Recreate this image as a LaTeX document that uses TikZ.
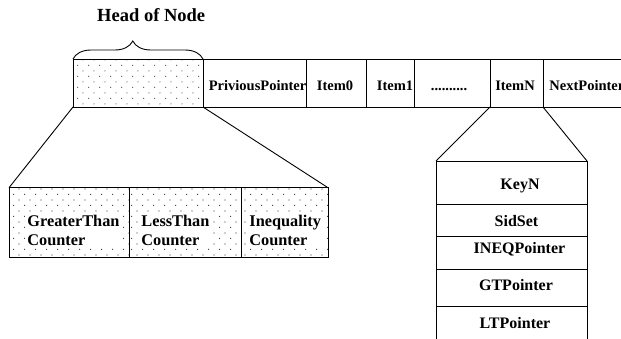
\documentclass[tikz,border=0pt]{standalone}
\usepackage{fontspec}
\setmainfont{Liberation Serif}
\usetikzlibrary{patterns,decorations.pathreplacing}
\pgfdeclarepatternformonly{sparsedots}{\pgfpointorigin}{\pgfpoint{10.8pt}{10.8pt}}{\pgfpoint{10.8pt}{10.8pt}}{%
  \pgfpathcircle{\pgfpoint{2.7pt}{2.7pt}}{0.6pt}%
  \pgfpathcircle{\pgfpoint{8.1pt}{8.1pt}}{0.6pt}%
  \pgfusepath{fill}}
\begin{document}
\begin{tikzpicture}[x=1pt,y=-1pt,line width=0.9pt,
  cell/.style={draw,inner sep=0pt,outer sep=0pt},
  dotted cell/.style={cell,pattern=sparsedots,pattern color=black!80},
  toptext/.style={inner sep=0pt,anchor=base,font=\bfseries\fontsize{14.5}{16}\selectfont},
  stacktext/.style={inner sep=0pt,anchor=base,font=\bfseries\fontsize{16}{18}\selectfont},
  cnttext/.style={fill=white,inner sep=2pt,align=left,anchor=base west,font=\bfseries\fontsize{16.3}{18.3}\selectfont}]
\useasboundingbox (0,0) rectangle (621,338);
% top row
\node[dotted cell,minimum width=130,minimum height=48] (head) at (138,83) {};
\node[cell,minimum width=103,minimum height=48] (prev) at (254.5,83) {};
\node[cell,minimum width=60,minimum height=48] (item0) at (336,83) {};
\node[cell,minimum width=48,minimum height=48] (item1) at (390,83) {};
\node[cell,minimum width=76,minimum height=48] (dots) at (452,83) {};
\node[cell,minimum width=53,minimum height=48] (itemN) at (516.5,83) {};
\node[cell,minimum width=90,minimum height=48] (next) at (588,83) {};
\node[toptext] (prevt) at (257.6,90.5) {PriviousPointer};
\node[toptext] (item0t) at (335,90.5) {Item0};
\node[toptext] (item1t) at (395,90.5) {Item1};
\node[toptext] (dotst) at (449,90.5) {..........};
\node[toptext] (itemNt) at (515,90.5) {ItemN};
\node[toptext,anchor=base west] (nextt) at (549,90.5) {NextPointer};
% brace and heading
\draw[decorate,decoration={brace,amplitude=18pt,aspect=0.46}] (head.north west) -- (head.north east);
\node[inner sep=0pt,anchor=base,font=\bfseries\fontsize{18.5}{20}\selectfont] (heading) at (151.2,21.7) {Head of Node};
% counters
\node[dotted cell,minimum width=120,minimum height=69.3] (c1) at (69,222.35) {};
\node[dotted cell,minimum width=112,minimum height=69.3] (c2) at (185,222.35) {};
\node[dotted cell,minimum width=87,minimum height=69.3] (c3) at (284.5,222.35) {};
\node[cnttext] (c1t) at (25,245) {GreaterThan\\Counter};
\node[cnttext] (c2t) at (139,245) {LessThan\\Counter};
\node[cnttext] (c3t) at (247,245) {Inequality\\Counter};
\draw (head.south west) -- (c1.north west);
\draw (head.south east) -- (c3.north east);
% item stack
\node[cell,minimum width=151,minimum height=43.3] (key) at (511.5,182.65) {};
\node[cell,minimum width=151,minimum height=32.4] (sid) at (511.5,220.5) {};
\node[cell,minimum width=151,minimum height=32.3] (ineq) at (511.5,252.85) {};
\node[cell,minimum width=151,minimum height=37.7] (gt) at (511.5,287.85) {};
\coordinate (ltl) at (436,340);
\coordinate (ltr) at (587,340);
\draw (gt.south west) -- (ltl);
\draw (gt.south east) -- (ltr);
\node[stacktext] (keyt) at (520,189) {KeyN};
\node[stacktext] (sidt) at (516.5,226) {SidSet};
\node[stacktext] (ineqt) at (519.5,253.3) {INEQPointer};
\node[stacktext] (gtt) at (516,290) {GTPointer};
\node[stacktext] (ltt) at (515,328.3) {LTPointer};
\draw (itemN.south west) -- (key.north west);
\draw (itemN.south east) -- (key.north east);
\end{tikzpicture}
\end{document}
